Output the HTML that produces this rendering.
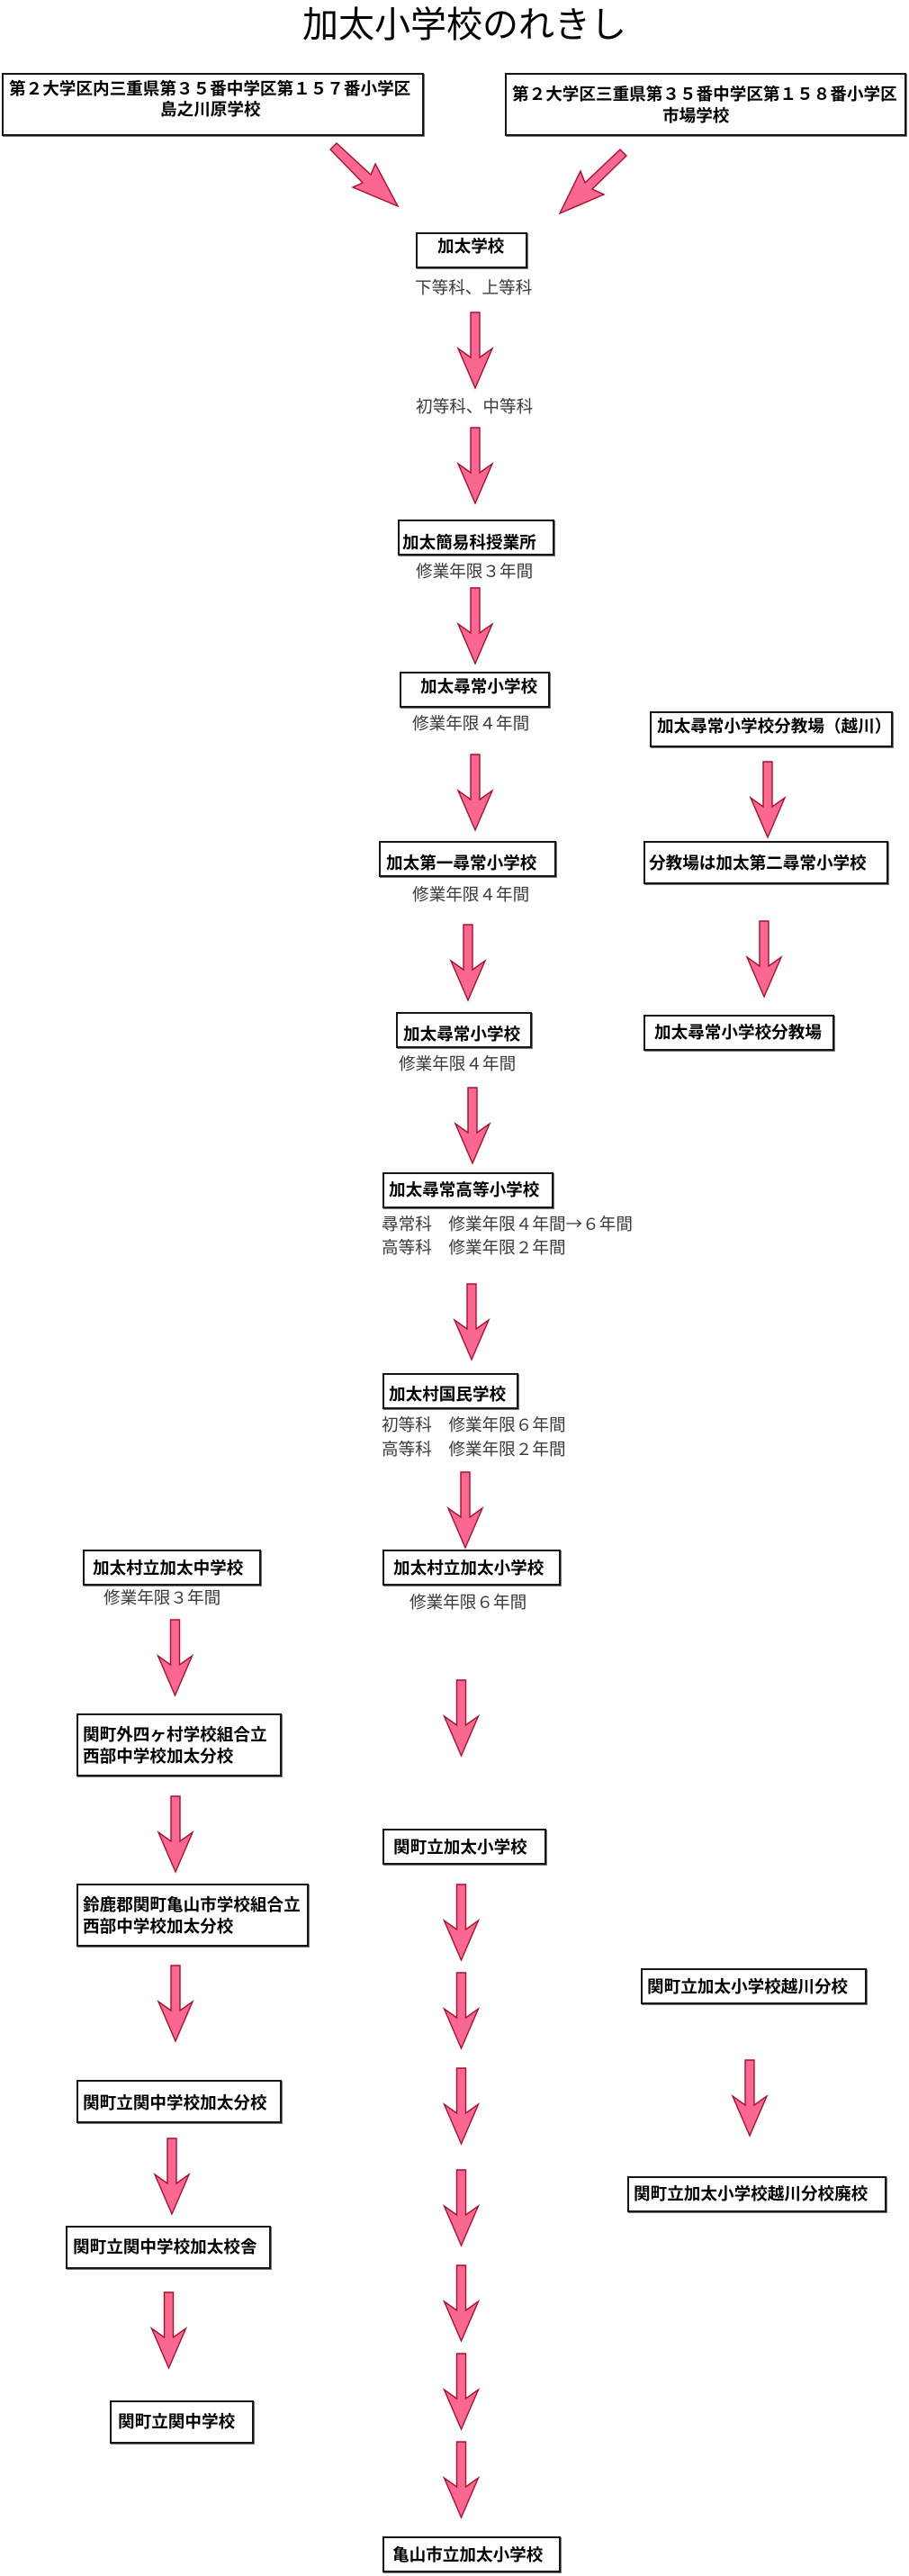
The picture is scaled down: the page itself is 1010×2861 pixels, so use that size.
<!DOCTYPE html>
<html>
<head>
<meta charset="utf-8">
<style>
html,body{margin:0;padding:0;background:#fff;}
body{width:1010px;height:2861px;position:relative;overflow:hidden;font-family:"Liberation Sans","Noto Sans CJK JP",sans-serif;}
.b{position:absolute;box-sizing:border-box;border:2px solid #161616;background:#fff;box-shadow:1px 1px 0 #777;}
.t{position:absolute;white-space:nowrap;font-size:18.6px;line-height:18.6px;font-weight:bold;color:#000;}
.l{position:absolute;white-space:nowrap;font-size:18.6px;line-height:18.6px;font-weight:normal;color:#3a3a3a;}
.cj{font-family:"Noto Sans CJK JP",sans-serif;}
.title{position:absolute;left:336px;top:8px;font-size:40px;line-height:40px;white-space:nowrap;color:#000;}
svg{position:absolute;left:0;top:0;}
</style>
</head>
<body>
<div class="title">加太小学校のれきし</div>

<!-- top boxes -->
<div class="b" style="left:2px;top:81px;width:469px;height:70px;"></div>
<div class="t" style="left:10px;top:90px;">第２大学区内三重県第３５番中学区第１５７番小学区</div>
<div class="t" style="left:178px;top:113px;">島之川原学校</div>

<div class="b" style="left:561px;top:81px;width:446px;height:70px;"></div>
<div class="t" style="left:569px;top:96px;">第２大学区三重県第３５番中学区第１５８番小学区</div>
<div class="t" style="left:736px;top:120px;">市場学校</div>

<!-- center column -->
<div class="b" style="left:462px;top:258px;width:124px;height:40px;"></div>
<div class="t" style="left:486px;top:265px;">加太学校</div>
<div class="l" style="left:461px;top:311px;">下等科、上等科</div>
<div class="l" style="left:462px;top:443px;">初等科、中等科</div>

<div class="b" style="left:442px;top:577px;width:174px;height:40px;"></div>
<div class="t" style="left:447px;top:594px;">加太簡易科授業所</div>
<div class="l" style="left:462px;top:626px;">修業年限３年間</div>

<div class="b" style="left:444px;top:746px;width:167px;height:40px;"></div>
<div class="t" style="left:467px;top:754px;">加太尋常小学校</div>
<div class="l" style="left:458px;top:795px;">修業年限４年間</div>

<div class="b" style="left:421px;top:934px;width:197px;height:40px;"></div>
<div class="t" style="left:429px;top:950px;">加太第一尋常小学校</div>
<div class="l" style="left:458px;top:985px;">修業年限４年間</div>

<div class="b" style="left:440px;top:1124px;width:151px;height:40px;"></div>
<div class="t" style="left:448px;top:1140px;">加太尋常小学校</div>
<div class="l" style="left:443px;top:1173px;">修業年限４年間</div>

<div class="b" style="left:425px;top:1302px;width:190px;height:40px;"></div>
<div class="t" style="left:432px;top:1313px;">加太尋常高等小学校</div>
<div class="l" style="left:424px;top:1350px;">尋常科　修業年限４年間<span class="cj">→</span>６年間</div>
<div class="l" style="left:424px;top:1377px;">高等科　修業年限２年間</div>

<div class="b" style="left:425px;top:1525px;width:151px;height:40px;"></div>
<div class="t" style="left:432px;top:1540px;">加太村国民学校</div>
<div class="l" style="left:424px;top:1574px;">初等科　修業年限６年間</div>
<div class="l" style="left:424px;top:1601px;">高等科　修業年限２年間</div>

<div class="b" style="left:425px;top:1721px;width:198px;height:40px;"></div>
<div class="t" style="left:437px;top:1733px;">加太村立加太小学校</div>
<div class="l" style="left:455px;top:1771px;">修業年限６年間</div>

<div class="b" style="left:425px;top:2031px;width:182px;height:40px;"></div>
<div class="t" style="left:437px;top:2043px;">関町立加太小学校</div>

<div class="b" style="left:425px;top:2817px;width:198px;height:40px;"></div>
<div class="t" style="left:436px;top:2829px;">亀山市立加太小学校</div>

<!-- right column -->
<div class="b" style="left:722px;top:790px;width:270px;height:40px;"></div>
<div class="t" style="left:730px;top:798px;">加太尋常小学校分教場（越川）</div>

<div class="b" style="left:715px;top:934px;width:272px;height:48px;"></div>
<div class="t" style="left:721px;top:950px;">分教場は加太第二尋常小学校</div>

<div class="b" style="left:715px;top:1127px;width:212px;height:40px;"></div>
<div class="t" style="left:727px;top:1138px;">加太尋常小学校分教場</div>

<div class="b" style="left:712px;top:2186px;width:251px;height:40px;"></div>
<div class="t" style="left:719px;top:2198px;">関町立加太小学校越川分校</div>

<div class="b" style="left:697px;top:2417px;width:288px;height:40px;"></div>
<div class="t" style="left:704px;top:2428px;">関町立加太小学校越川分校廃校</div>

<!-- left column -->
<div class="b" style="left:92px;top:1721px;width:198px;height:40px;"></div>
<div class="t" style="left:103px;top:1733px;">加太村立加太中学校</div>
<div class="l" style="left:115px;top:1766px;">修業年限３年間</div>

<div class="b" style="left:85px;top:1903px;width:228px;height:70px;"></div>
<div class="t" style="left:92px;top:1918px;">関町外四ヶ村学校組合立</div>
<div class="t" style="left:92px;top:1942px;">西部中学校加太分校</div>

<div class="b" style="left:85px;top:2092px;width:258px;height:70px;"></div>
<div class="t" style="left:92px;top:2107px;">鈴鹿郡関町亀山市学校組合立</div>
<div class="t" style="left:92px;top:2131px;">西部中学校加太分校</div>

<div class="b" style="left:85px;top:2310px;width:228px;height:48px;"></div>
<div class="t" style="left:92px;top:2327px;">関町立関中学校加太分校</div>

<div class="b" style="left:73px;top:2472px;width:228px;height:48px;"></div>
<div class="t" style="left:81px;top:2487px;">関町立関中学校加太校舎</div>

<div class="b" style="left:122px;top:2666px;width:160px;height:48px;"></div>
<div class="t" style="left:131px;top:2681px;">関町立関中学校</div>

<svg width="1010" height="2861" viewBox="0 0 1010 2861" xmlns="http://www.w3.org/2000/svg">
<defs>
<polygon id="va" points="-5,0 5,0 5,50 19,40 0,84 -19,40 -5,50" fill="#fa6790" stroke="#a8102c" stroke-width="1.4" stroke-linejoin="miter"/>
</defs>
<g fill="#fa6790" stroke="#a8102c" stroke-width="1.4">
<polygon points="374,159 412,194 417,182 442,229 392,208 403,203 367,166"/>
<polygon points="689,166 650,203 645,190 622,237 671,216 658,210 696,173"/>
</g>
<!-- center column arrows -->
<use href="#va" x="528" y="347"/>
<use href="#va" x="528" y="475"/>
<use href="#va" x="528" y="653"/>
<use href="#va" x="528" y="838"/>
<use href="#va" x="520" y="1027"/>
<use href="#va" x="525" y="1208"/>
<use href="#va" x="524" y="1426"/>
<use href="#va" x="517" y="1635"/>
<use href="#va" x="512.5" y="1866"/>
<use href="#va" x="512.5" y="2093"/>
<use href="#va" x="512.5" y="2191"/>
<use href="#va" x="512.5" y="2297"/>
<use href="#va" x="512.5" y="2410"/>
<use href="#va" x="512.5" y="2516"/>
<use href="#va" x="512.5" y="2614"/>
<use href="#va" x="512.5" y="2712"/>
<!-- right column arrows -->
<use href="#va" x="853" y="846"/>
<use href="#va" x="849" y="1023"/>
<use href="#va" x="833" y="2288"/>
<!-- left column arrows -->
<use href="#va" x="194.5" y="1799"/>
<use href="#va" x="195" y="1995"/>
<use href="#va" x="195" y="2183"/>
<use href="#va" x="191" y="2375"/>
<use href="#va" x="187.5" y="2546"/>
</svg>
</body>
</html>
